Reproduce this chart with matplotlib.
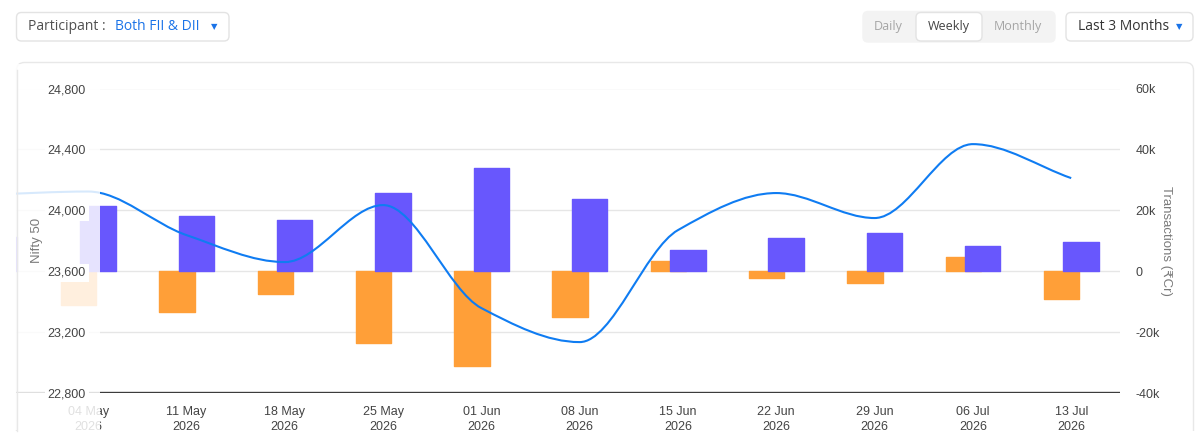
import numpy as np
import matplotlib
matplotlib.use('Agg')
from matplotlib import pyplot as plt
from matplotlib.patches import FancyBboxPatch, Rectangle, PathPatch
from matplotlib.path import Path

# Weekly data (first week is only partly visible at the left edge)
weeks = ['27 Apr', '04 May', '11 May', '18 May', '25 May', '01 Jun', '08 Jun',
         '15 Jun', '22 Jun', '29 Jun', '06 Jul', '13 Jul']
year = '2026'
nifty = [24104, 24124, 23838, 23661, 24035, 23359, 23136, 23871, 24114, 23950, 24435, 24212]
fii = [-8000, -11000, -13400, -7400, -23500, -31000, -15100, 3300, -2100, -3700, 4600, -9100]
dii = [11200, 21300, 18200, 16900, 25700, 33800, 23700, 6900, 10900, 12600, 8200, 9500]

nifty_ticks = [22800, 23200, 23600, 24000, 24400, 24800]
txn_ticks = [-40000, -20000, 0, 20000, 40000, 60000]
txn_labels = ['-40k', '-20k', '0', '20k', '40k', '60k']

ORANGE = '#FF9F38'
PURPLE = '#6857FD'
BLUE = '#0F7CF2'
TICK = '#444444'

W, H = 1200, 437
fig = plt.figure(figsize=(W / 100, H / 100), dpi=100)

# axes box in pixels
L, R, T, B = 16, 1120, 88.5, 393.3
pos = [L / W, 1 - B / H, (R - L) / W, (B - T) / H]
x = np.arange(-1, len(weeks) - 1)
# category centre at 88.2px + 98.3px per week
xlim = ((L - 88.2) / 98.3, (R - 88.2) / 98.3)

# background: card and header controls
bg = fig.add_axes([0, 0, 1, 1], zorder=0)
bg.set_xlim(0, W)
bg.set_ylim(H, 0)
bg.axis('off')


def box(x0, y0, x1, y1, fc='white', ec='#e3e3e3', r=5):
    bg.add_patch(FancyBboxPatch((x0, y0), x1 - x0, y1 - y0,
                                boxstyle='round,pad=0,rounding_size=%g' % r,
                                fc=fc, ec=ec, lw=1))


box(16.5, 62.5, 1193.5, 480, r=8, ec='#e8e8e8')
box(16.5, 12.5, 229, 41)
bg.text(28, 27, 'Participant :', fontsize=10, color='#505050', family='Open Sans', va='center')
bg.text(115, 27, 'Both FII & DII', fontsize=10, color='#1a73e8', family='Open Sans', va='center')
bg.text(214, 27, '▼', fontsize=6, color='#1a73e8', family='DejaVu Sans', va='center', ha='center')

box(863, 11.5, 1055, 42, fc='#f3f3f3', ec='#f3f3f3')
box(916, 12.5, 982, 41, fc='white', ec='#e3e3e3')
bg.text(888, 26.5, 'Daily', fontsize=9, color='#a5a5a5', family='Open Sans', va='center', ha='center')
bg.text(949, 26.5, 'Weekly', fontsize=9, color='#444444', family='Open Sans', va='center', ha='center')
bg.text(1018, 26.5, 'Monthly', fontsize=9, color='#a5a5a5', family='Open Sans', va='center', ha='center')

box(1066, 12.5, 1193, 41)
bg.text(1078, 27, 'Last 3 Months', fontsize=10, color='#333333', family='Open Sans', va='center')
bg.text(1179, 27, '▼', fontsize=6, color='#1a73e8', family='DejaVu Sans', va='center', ha='center')

# bars on the transactions axis
ax2 = fig.add_axes(pos, zorder=1)
ax2.patch.set_visible(False)
ax2.bar(x - 0.097, fii, width=0.36, color=ORANGE, ec=ORANGE, lw=1, joinstyle='round', zorder=2)
ax2.bar(x + 0.1, dii, width=0.36, color=PURPLE, ec=PURPLE, lw=1, joinstyle='round', zorder=2)
ax2.set_xticks(x[1:])
ax2.set_xticklabels([w + '\n' + year for w in weeks[1:]], linespacing=1.35)
ax2.set_yticks(txn_ticks)
ax2.set_yticklabels(txn_labels)
ax2.set_xlim(*xlim)
ax2.set_ylim(-40000, 60000)
ax2.yaxis.tick_right()
ax2.grid(axis='y', color='#e6e6e6', lw=1)
ax2.set_axisbelow(True)
ax2.tick_params(axis='x', length=0, pad=9, labelsize=9, labelcolor=TICK)
ax2.tick_params(axis='y', length=0, pad=11, labelsize=9, labelcolor=TICK)
for lbl in ax2.get_xticklabels() + ax2.get_yticklabels():
    lbl.set_family('Liberation Sans')
for s in ax2.spines.values():
    s.set_visible(False)
ax2.set_ylabel('Transactions (₹Cr)', rotation=270, color='#7a7a7a', fontsize=9.5,
               family=['Liberation Sans', 'DejaVu Sans'], va='center')
ax2.yaxis.set_label_position('right')
ax2.yaxis.set_label_coords((1172 - L) / (R - L), 0.5)

# Nifty line on its own axis, above the bars
ax = fig.add_axes(pos, zorder=2)
ax.patch.set_visible(False)
ax.set_xlim(*xlim)
ax.set_ylim(22800, 24800)
ax.axis('off')
ax.axhline(22800, color='#3c3c3c', lw=1.7)

ys = np.array(nifty, dtype=float)
d = np.diff(ys)
m = np.zeros(len(ys))
m[0], m[-1] = d[0], d[-1]
for i in range(1, len(ys) - 1):
    if d[i - 1] * d[i] > 0:
        m[i] = 2 * d[i - 1] * d[i] / (d[i - 1] + d[i])
verts = [(x[0], ys[0])]
codes = [Path.MOVETO]
for i in range(len(ys) - 1):
    verts += [(x[i] + 1 / 3, ys[i] + m[i] / 3),
              (x[i + 1] - 1 / 3, ys[i + 1] - m[i + 1] / 3),
              (x[i + 1], ys[i + 1])]
    codes += [Path.CURVE4] * 3
ax.add_patch(PathPatch(Path(verts, codes), fc='none', ec=BLUE, lw=1.5))

# faded overflow on the left, and clipped bottom
fade = fig.add_axes([0, 0, 1, 1], zorder=3)
fade.set_xlim(0, W)
fade.set_ylim(H, 0)
fade.axis('off')
fade.add_patch(Rectangle((15, 64), 100 - 15, 366, fc='white', ec='none', alpha=0.84))
fade.add_patch(Rectangle((0, 430.5), W, 10, fc='white', ec='none'))
fade.plot([16.5, 16.5], [70, 430.5], color='#e8e8e8', lw=1)
fade.text(37, (T + B) / 2, 'Nifty 50', rotation=90, color='#7a7a7a', fontsize=9.5,
          family='Liberation Sans', va='center', ha='center')

# left tick labels drawn over the fade
lab = fig.add_axes(pos, zorder=4)
lab.patch.set_visible(False)
lab.set_yticks(nifty_ticks)
lab.set_yticklabels(['{:,}'.format(v) for v in nifty_ticks])
lab.set_ylim(22800, 24800)
lab.set_xticks([])
lab.tick_params(axis='y', length=0, pad=-(86 - L) * 0.72, labelsize=9, labelcolor=TICK)
for lbl in lab.get_yticklabels():
    lbl.set_family('Liberation Sans')
    lbl.set_bbox(dict(fc='white', ec='none', pad=2))
for s in lab.spines.values():
    s.set_visible(False)

fig.savefig('out.png', dpi=100)
